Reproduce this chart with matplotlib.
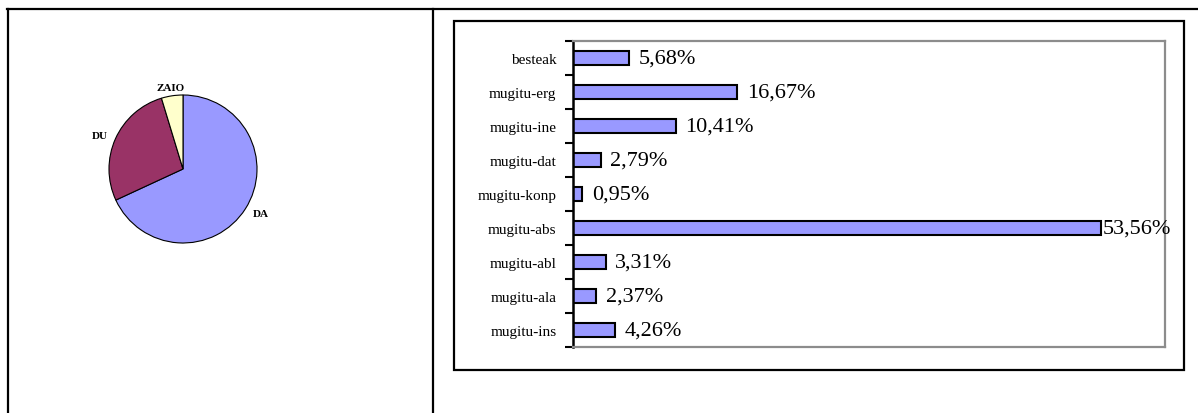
import matplotlib
matplotlib.use("Agg")
import matplotlib.pyplot as plt
from matplotlib.lines import Line2D
from matplotlib.patches import Rectangle
import numpy as np

# ---- data ----
pie_labels = ["DA", "DU", "ZAIO"]
pie_values = [68.1, 27.2, 4.7]
pie_colors = ["#9999FF", "#993366", "#FFFFCC"]

categories = ["besteak", "mugitu-erg", "mugitu-ine", "mugitu-dat", "mugitu-konp",
              "mugitu-abs", "mugitu-abl", "mugitu-ala", "mugitu-ins"]
values = [5.68, 16.67, 10.41, 2.79, 0.95, 53.56, 3.31, 2.37, 4.26]
value_labels = ["5,68%", "16,67%", "10,41%", "2,79%", "0,95%",
                "53,56%", "3,31%", "2,37%", "4,26%"]

plt.rcParams["font.family"] = ["Liberation Serif", "DejaVu Serif"]

W, H = 1198, 414
fig = plt.figure(figsize=(W / 100, H / 100), dpi=100)

def fx(x):
    return x / W

def fy(y):
    return 1 - y / H

# ---- table lines ----
lw_table = 1.6
fig.add_artist(Line2D([fx(7), fx(1198)], [fy(10), fy(10)], color="black", lw=lw_table))
fig.add_artist(Line2D([fx(7.5), fx(7.5)], [fy(10), fy(414)], color="black", lw=lw_table))
fig.add_artist(Line2D([fx(433), fx(433)], [fy(10), fy(414)], color="black", lw=lw_table))

# ---- pie ----
cx, cy, r = 183, 170, 74
axp = fig.add_axes([fx(cx - r), fy(cy + r), 2 * r / W, 2 * r / H])
wedges, texts = axp.pie(pie_values, colors=pie_colors, startangle=90, counterclock=False,
                        labels=pie_labels, labeldistance=1.12,
                        wedgeprops=dict(edgecolor="black", linewidth=0.8),
                        textprops=dict(fontsize=8, fontweight="bold"))
texts[2].set_ha("center")
axp.set_xlim(-1, 1)
axp.set_ylim(-1, 1)
axp.set_aspect("auto")
axp.axis("off")

# ---- bar chart outer box ----
fig.add_artist(Rectangle((fx(454), fy(371)), fx(1184) - fx(454), fy(22) - fy(371),
                         fill=False, edgecolor="black", lw=1.6))

# ---- bar chart ----
x0, x1, y0, y1 = 573, 1165, 42, 348
axb = fig.add_axes([fx(x0), fy(y1), (x1 - x0) / W, (y1 - y0) / H])
pos = np.arange(len(categories))
axb.barh(pos, values, height=0.4, color="#9999FF", edgecolor="black", linewidth=1.5)
axb.set_ylim(len(categories) - 0.5, -0.5)
axb.set_xlim(0, 60)
axb.set_xticks([])
axb.set_yticks(pos)
axb.set_yticklabels(categories, fontsize=11)
axb.tick_params(axis="y", which="major", length=0, pad=12)
axb.set_yticks(np.arange(-0.5, len(categories), 1.0), minor=True)
axb.tick_params(axis="y", which="minor", length=6, width=1.5, color="black", direction="out")
for side in ["top", "right", "bottom"]:
    axb.spines[side].set_color("#8c8c8c")
    axb.spines[side].set_linewidth(1.6)
axb.spines["left"].set_color("black")
axb.spines["left"].set_linewidth(1.8)

vmax = max(values)
for p, v, lab in zip(pos, values, value_labels):
    off = 1 if v == vmax else 7
    axb.annotate(lab, xy=(v, p), xytext=(off, 0), textcoords="offset points",
                 va="center", ha="left", fontsize=16, annotation_clip=False)

fig.savefig("out.png", dpi=100)
